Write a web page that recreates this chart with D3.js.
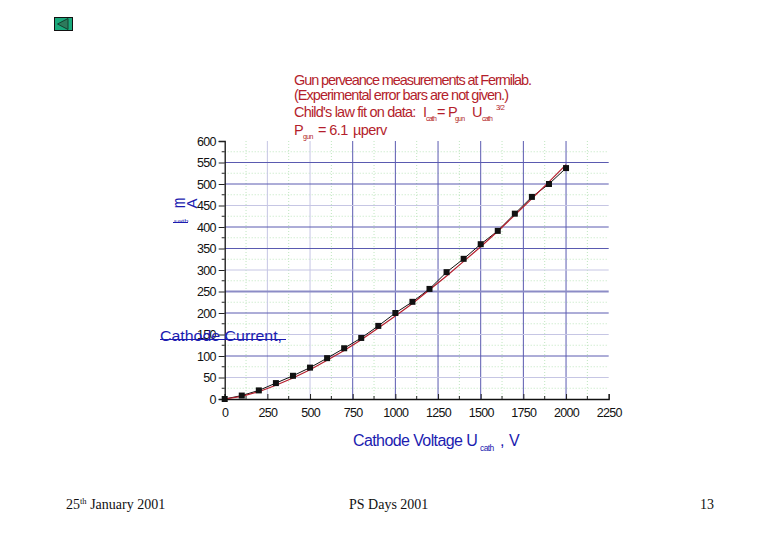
<!DOCTYPE html>
<html>
<head>
<meta charset="utf-8">
<title>Gun perveance</title>
<script src="https://cdn.jsdelivr.net/npm/d3@7"></script>
<style>
    html, body { margin: 0; padding: 0; background: #fff; }
    svg { display: block; }
    .chart-text { font-family: "Liberation Sans", Arial, sans-serif; }
    .slide-text { font-family: "Liberation Serif", "Times New Roman", serif; font-size: 14px; fill: #111; }
    .tick text { font-family: "Liberation Sans", Arial, sans-serif; font-size: 12.5px; fill: #111; letter-spacing: -0.7px; }
</style>
</head>
<body>
<script>
// Data
const voltages = [0, 100, 200, 300, 400, 500, 600, 700, 800, 900, 1000, 1100, 1200, 1300, 1400, 1500, 1600, 1700, 1800, 1900, 2000];
const measuredCurrent = [0, 8, 20, 37, 54, 73, 95, 118, 142, 170, 200, 226, 256, 295, 326, 360, 391, 431, 470, 500, 537];
const fitCurrent = [0, 6, 17, 32, 49, 68, 90, 113, 138, 165, 193, 222, 254, 286, 320, 354, 390, 428, 466, 505, 545];

const xMajorTicks = [0, 250, 500, 750, 1000, 1250, 1500, 1750, 2000, 2250];
const xMinorTicks = [125, 375, 625, 875, 1125, 1375, 1625, 1875, 2125];
const yMajorTicks = [0, 50, 100, 150, 200, 250, 300, 350, 400, 450, 500, 550, 600];
const yMinorTicks = [25, 75, 125, 175, 225, 275, 325, 375, 425, 475, 525, 575];

// gridlines that came out faint in the scanned slide
const xFaintGrid = [250, 500];
const yFaintGrid = [50, 150, 300, 450];

const titleLines = [
    'Gun perveance measurements at Fermilab.',
    '(Experimental error bars are not given.)'
];

const svg = d3.select('body').append('svg')
    .attr('width', 780)
    .attr('height', 540);

const x = d3.scaleLinear().domain([0, 2250]).range([224.7, 608.7]);
const y = d3.scaleLinear().domain([0, 600]).range([399, 141]);

const BLUE = '#1c1cb0';
const RED = '#b41e2c';

// Grid
const grid = svg.append('g');

grid.selectAll('.minor-x').data(xMinorTicks).enter().append('line')
    .attr('x1', d => x(d)).attr('x2', d => x(d))
    .attr('y1', y(600)).attr('y2', y(0))
    .attr('stroke', '#bfe6bf').attr('stroke-width', 1).attr('stroke-dasharray', '1 2');

grid.selectAll('.minor-y').data(yMinorTicks).enter().append('line')
    .attr('x1', x(0)).attr('x2', x(2250))
    .attr('y1', d => y(d)).attr('y2', d => y(d))
    .attr('stroke', '#bfe6bf').attr('stroke-width', 1).attr('stroke-dasharray', '1 2');

grid.selectAll('.major-x').data(xMajorTicks.slice(1, -1)).enter().append('line')
    .attr('x1', d => x(d)).attr('x2', d => x(d))
    .attr('y1', y(600)).attr('y2', y(0))
    .attr('stroke', d => xFaintGrid.includes(d) ? '#c6c6e4' : '#5a5ab0')
    .attr('stroke-width', 1);

grid.selectAll('.major-y').data(yMajorTicks.slice(1, -1)).enter().append('line')
    .attr('x1', x(0)).attr('x2', x(2250))
    .attr('y1', d => y(d)).attr('y2', d => y(d))
    .attr('stroke', d => yFaintGrid.includes(d) ? '#c6c6e4' : (d === 250 ? '#8c8cc6' : '#5a5ab0'))
    .attr('stroke-width', d => d === 250 ? 2 : 1);

// Axes
const xAxis = svg.append('g')
    .attr('transform', `translate(0,${y(0)})`)
    .call(d3.axisBottom(x).tickValues(xMajorTicks).tickFormat(d3.format('d')).tickSize(-5).tickPadding(9));
const yAxis = svg.append('g')
    .attr('transform', `translate(${x(0)},0)`)
    .call(d3.axisLeft(y).tickValues(yMajorTicks).tickFormat(d3.format('d')).tickSize(6).tickPadding(3));

xAxis.selectAll('.minor').data(xMinorTicks).enter().append('line')
    .attr('class', 'minor')
    .attr('x1', d => x(d)).attr('x2', d => x(d))
    .attr('y1', 0).attr('y2', -3)
    .attr('stroke', '#222');
yAxis.selectAll('.minor').data(yMinorTicks).enter().append('line')
    .attr('class', 'minor')
    .attr('x1', 0).attr('x2', -3)
    .attr('y1', d => y(d)).attr('y2', d => y(d))
    .attr('stroke', '#222');

[xAxis, yAxis].forEach(a => {
    a.select('.domain').attr('stroke', '#111').attr('stroke-width', 1.3);
    a.selectAll('.tick line').attr('stroke', '#222');
});

// Measured data line and the fit
const pairs = (xs, ys) => xs.map((v, i) => [v, ys[i]]);
const line = d3.line().x(d => x(d[0])).y(d => y(d[1]));

svg.append('path')
    .attr('d', line(pairs(voltages, measuredCurrent)))
    .attr('fill', 'none').attr('stroke', '#111').attr('stroke-width', 1);

svg.append('path')
    .attr('d', line(pairs(voltages, fitCurrent)))
    .attr('fill', 'none').attr('stroke', RED).attr('stroke-width', 1.2);

svg.selectAll('.point').data(pairs(voltages, measuredCurrent)).enter().append('rect')
    .attr('x', d => x(d[0]) - 3)
    .attr('y', d => y(d[1]) - 3)
    .attr('width', 6)
    .attr('height', 6)
    .attr('fill', '#111');

// Title block
const title = svg.append('g').attr('class', 'chart-text').attr('fill', RED);

titleLines.forEach((t, i) => {
    title.append('text')
        .attr('x', 294)
        .attr('y', 85 + i * 15)
        .attr('font-size', 14.5)
        .attr('textLength', i === 0 ? 238 : 215)
        .attr('lengthAdjust', 'spacing')
        .text(t);
});

function addRuns(parent, startX, baseline, size, spacing, runs) {
    const el = parent.append('text')
        .attr('x', startX)
        .attr('y', baseline)
        .attr('font-size', size)
        .attr('letter-spacing', spacing);
    runs.forEach(r => {
        const span = el.append('tspan').text(r.t);
        if (r.size) span.attr('font-size', r.size);
        if (r.dy) span.attr('dy', r.dy);
        if (r.x) span.attr('x', r.x);
    });
    return el;
}

addRuns(title, 294, 117, 14.5, -0.8, [
    { t: "Child's law fit on data:" },
    { t: 'I', x: 423 },
    { t: 'cath', size: 7, dy: 4, x: 426 },
    { t: '= P', dy: -4, x: 437 },
    { t: 'gun', size: 7, dy: 4, x: 455 },
    { t: 'U', dy: -4, x: 472 },
    { t: 'cath', size: 7, dy: 4, x: 482 },
    { t: '3/2', size: 7.5, dy: -11, x: 496 }
]);

addRuns(title, 294, 135, 14.5, -0.6, [
    { t: 'P' },
    { t: 'gun', size: 7, dy: 4, x: 303 },
    { t: '= 6.1', dy: -4, x: 318 },
    { t: 'µperv', x: 353 }
]);

// Axis titles. The y title is squashed and misplaced in the original slide
const labels = svg.append('g').attr('class', 'chart-text').attr('fill', BLUE);

addRuns(labels, 353, 446, 16, -0.6, [
    { t: 'Cathode Voltage U' },
    { t: 'cath', size: 8.5, dy: 5, x: 480 },
    { t: ',', dy: -5, x: 500 },
    { t: 'V', x: 509 }
]);

labels.append('text')
    .attr('transform', 'translate(160,341) scale(1,0.7)')
    .attr('font-size', 20)
    .attr('textLength', 122)
    .attr('lengthAdjust', 'spacingAndGlyphs')
    .text('Cathode Current,');

labels.append('rect')
    .attr('x', 160).attr('y', 339)
    .attr('width', 126).attr('height', 1);

// m and A are each turned on their side but still run left to right
labels.append('text')
    .attr('transform', 'translate(185,208) rotate(-90) scale(0.68,1)')
    .attr('font-size', 18)
    .text('m');
labels.append('text')
    .attr('transform', 'translate(197,208.5) rotate(-90)')
    .attr('font-size', 15)
    .text('A');

labels.append('text')
    .attr('transform', 'translate(174,222) scale(1.1,0.6)')
    .attr('font-size', 7)
    .text('cath');
labels.append('rect')
    .attr('x', 173).attr('y', 222)
    .attr('width', 15).attr('height', 1);

// Back button
const button = svg.append('g');
button.append('rect')
    .attr('x', 54.5).attr('y', 17.5)
    .attr('width', 18).attr('height', 13)
    .attr('fill', '#1aa97c').attr('stroke', '#111');
button.append('path')
    .attr('d', 'M57.5 24 L68 18.5 L68 29.5 Z')
    .attr('fill', '#2d7a5c').attr('stroke', '#14402f');

// Slide footer
const footer = svg.append('g').attr('class', 'slide-text');
const date = footer.append('text').attr('x', 66).attr('y', 509);
date.append('tspan').text('25');
date.append('tspan').attr('font-size', 8.5).attr('dy', -5).text('th');
date.append('tspan').attr('dy', 5).text(' January 2001');
footer.append('text').attr('x', 349).attr('y', 509).text('PS Days 2001');
footer.append('text').attr('x', 700).attr('y', 509).text('13');
</script>
</body>
</html>
